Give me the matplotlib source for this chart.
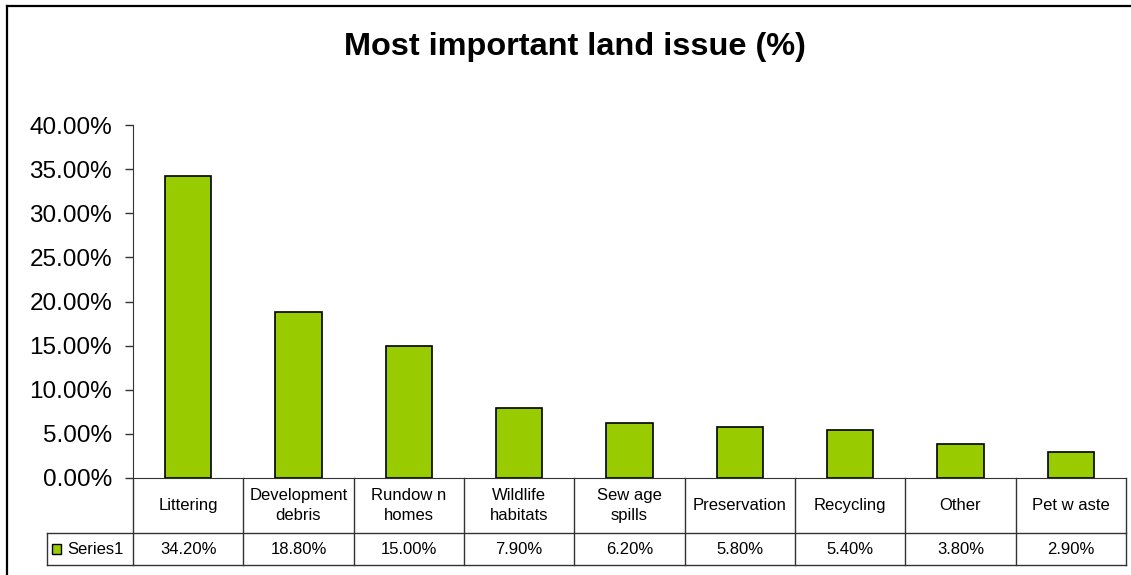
import numpy as np
import matplotlib
matplotlib.use("Agg")
import matplotlib.pyplot as plt
from matplotlib.lines import Line2D
from matplotlib.patches import Rectangle

# =========================
# DATA
# =========================
categories = ["Littering", "Development\ndebris", "Rundow n\nhomes", "Wildlife\nhabitats",
              "Sew age\nspills", "Preservation", "Recycling", "Other", "Pet w aste"]
values = [0.342, 0.188, 0.150, 0.079, 0.062, 0.058, 0.054, 0.038, 0.029]
value_labels = ["34.20%", "18.80%", "15.00%", "7.90%", "6.20%", "5.80%", "5.40%", "3.80%", "2.90%"]
series_name = "Series1"
yticks = [0.0, 0.05, 0.10, 0.15, 0.20, 0.25, 0.30, 0.35, 0.40]

plt.rcParams['font.family'] = ['Liberation Sans', 'DejaVu Sans']

W, H = 1131, 575
fig = plt.figure(figsize=(W / 100, H / 100), dpi=100)

# plot area in pixels
x0, x1 = 133, 1126
y_top, y_bot = 125, 478
ax = fig.add_axes([x0 / W, (H - y_bot) / H, (x1 - x0) / W, (y_bot - y_top) / H])

bar_color = "#99CC00"
line_col = "#333333"
x = np.arange(len(categories))
ax.bar(x, values, width=0.417, color=bar_color, edgecolor="black", linewidth=1.2, zorder=3)

ax.set_xlim(-0.5, len(categories) - 0.5)
ax.set_ylim(0, 0.40)
ax.set_yticks(yticks)
ax.set_yticklabels([f"{v:.2%}" for v in yticks], fontsize=17.5)
ax.tick_params(axis="y", direction="out", length=6, width=1, color=line_col, pad=9)
ax.set_xticks([])
for s in ["top", "right"]:
    ax.spines[s].set_visible(False)
ax.spines["left"].set_color(line_col)
ax.spines["bottom"].set_color(line_col)

# =========================
# DATA TABLE BELOW
# =========================
col_w = (x1 - x0) / len(categories)
ax_h = y_bot - y_top
row1 = (y_bot - 533) / ax_h
row2 = (y_bot - 565) / ax_h
left_x = (47 - x0) / col_w - 0.5
trans = ax.get_xaxis_transform()

lk = dict(color=line_col, lw=1, transform=trans, clip_on=False)
ax.plot([left_x, len(categories) - 0.5], [row1, row1], **lk)
ax.plot([left_x, len(categories) - 0.5], [row2, row2], **lk)
ax.plot([left_x, left_x], [row1, row2], **lk)
for k in range(len(categories) + 1):
    ax.plot([k - 0.5, k - 0.5], [0, row2], **lk)

for i, (c, v) in enumerate(zip(categories, value_labels)):
    ax.text(i, row1 / 2, c, ha="center", va="center", fontsize=12,
            linespacing=1.35, transform=trans, clip_on=False)
    ax.text(i, (row1 + row2) / 2, v, ha="center", va="center", fontsize=12,
            transform=trans, clip_on=False)

# legend key in the table
mid = (row1 + row2) / 2
ax.add_patch(Rectangle(((52 - x0) / col_w - 0.5, mid - 5 / ax_h),
                       9 / col_w, 10 / ax_h, facecolor=bar_color, edgecolor="black",
                       lw=1, transform=trans, clip_on=False))
ax.text((67 - x0) / col_w - 0.5, mid, series_name, ha="left", va="center",
        fontsize=12, transform=trans, clip_on=False)

# =========================
# TITLE AND FRAME
# =========================
fig.text(575 / W, 1 - 47 / H, "Most important land issue (%)", ha="center", va="center",
         fontsize=23.4, fontweight="bold")

fig.add_artist(Line2D([6.5 / W, 6.5 / W], [0, 1 - 5.5 / H], color="black", lw=1.6))
fig.add_artist(Line2D([6.5 / W, 1], [1 - 5.5 / H, 1 - 5.5 / H], color="black", lw=1.6))

plt.savefig("out.png", dpi=100)
